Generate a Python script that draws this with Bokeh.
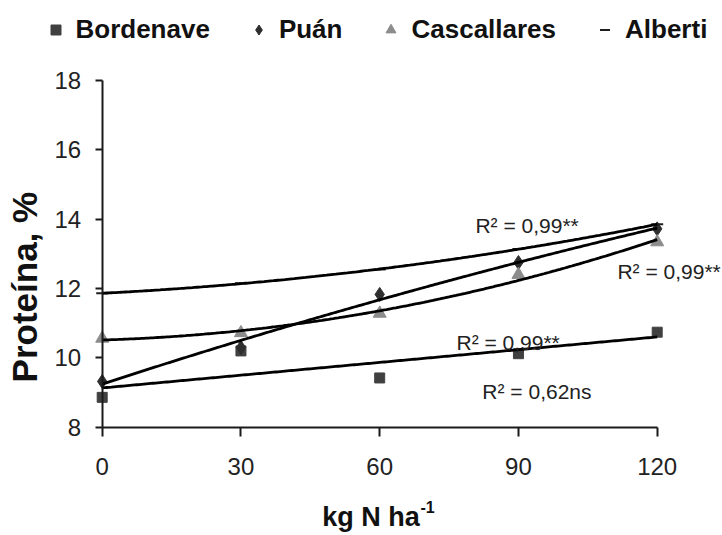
import numpy as np
from bokeh.plotting import figure
from bokeh.models import Range1d, LinearAxis, FixedTicker, Label, Legend, LegendItem
from bokeh.embed import file_html
from bokeh.resources import INLINE

# ---------------- data ----------------
dose = [0, 30, 60, 90, 120]                       # kg N ha-1
bordenave = [8.86, 10.20, 9.42, 10.12, 10.74]
puan = [9.32, 10.30, 11.83, 12.75, 13.72]
cascallares = [10.56, 10.72, 11.28, 12.40, 13.34]
alberti = [11.86, 12.15, 12.55, 13.14, 13.85]

series_names = ["Bordenave", "Puán", "Cascallares", "Alberti"]
fit_degree = [1, 2, 2, 2]
r2_texts = ["R² = 0,62ns", "R² = 0,99**", "R² = 0,99**", "R² = 0,99**"]

x_ticks = [0, 30, 60, 90, 120]
y_ticks = [8, 10, 12, 14, 16, 18]
x_title = "kg N ha"
x_title_sup = "-1"
y_title = "Proteína, %"

# ---------------- styles / positions ----------------
series_values = [bordenave, puan, cascallares, alberti]
markers = ["square", "diamond", "triangle", "dash"]
colors = ["#404040", "#2e2e2e", "#8c8c8c", "#1e1e1e"]
sizes = [10, 14, 13, 12]
r2_pos = [(82.2, 9.02), (76.6, 10.43), (111.4, 12.48), (80.7, 13.82)]

AX = "#1a1a1a"
FONT = "Liberation Sans"

# the frame fills the whole canvas; axes are drawn at fixed data locations
p = figure(width=722, height=535, output_backend="svg", toolbar_location=None,
           x_range=Range1d(-21.99, 134.12), y_range=Range1d(4.876, 20.307),
           x_axis_location=None, y_axis_location=None,
           min_border=0, min_border_left=0, min_border_right=0,
           min_border_top=0, min_border_bottom=0)
p.outline_line_color = None
p.background_fill_color = "white"
p.border_fill_color = "white"
p.grid.visible = False

xaxis = LinearAxis(fixed_location=8, bounds=(0, 120), ticker=FixedTicker(ticks=x_ticks))
yaxis = LinearAxis(fixed_location=0, bounds=(8, 18), ticker=FixedTicker(ticks=y_ticks))
for ax in (xaxis, yaxis):
    ax.axis_line_color = AX
    ax.axis_line_width = 2
    ax.major_tick_line_color = AX
    ax.major_tick_line_width = 2
    ax.major_tick_in = 0
    ax.minor_tick_line_color = None
    ax.major_label_text_font = FONT
    ax.major_label_text_font_size = "24px"
    ax.major_label_text_color = "#222222"
xaxis.major_tick_out = 9
xaxis.major_label_standoff = 22
yaxis.major_tick_out = 7
yaxis.major_label_standoff = 14
p.add_layout(xaxis, "below")
p.add_layout(yaxis, "left")

items = []
for name, vals, mk, col, sz in zip(series_names, series_values, markers, colors, sizes):
    r = p.scatter(dose, vals, marker=mk, size=sz, fill_color=col, line_color=col,
                  line_width=2 if mk == "dash" else 1)
    items.append(LegendItem(label=name, renderers=[r]))

xs = np.linspace(0, 120, 241)
for vals, deg in zip(series_values, fit_degree):
    coef = np.polyfit(dose, vals, deg)
    p.line(xs, np.polyval(coef, xs), line_color="black", line_width=2.8)

for (lx, ly), txt in zip(r2_pos, r2_texts):
    p.add_layout(Label(x=lx, y=ly, text=txt, text_font=FONT, text_font_size="21px",
                       text_color="#222222", text_align="left", text_baseline="middle"))

p.add_layout(Label(x=-16.8, y=12.04, text=y_title, angle=np.pi / 2,
                   text_font=FONT, text_font_style="bold", text_font_size="35px",
                   text_color="#111111", text_align="center", text_baseline="middle"))
p.add_layout(Label(x=47.6, y=5.40, text=x_title,
                   text_font=FONT, text_font_style="bold", text_font_size="27px",
                   text_color="#111111", text_align="left", text_baseline="middle"))
p.add_layout(Label(x=68.8, y=5.69, text=x_title_sup,
                   text_font=FONT, text_font_style="bold", text_font_size="16px",
                   text_color="#111111", text_align="left", text_baseline="middle"))

legend = Legend(items=items, orientation="horizontal", location=(42.5, 535 - 45),
                glyph_width=25, glyph_height=25, label_standoff=8, spacing=36,
                padding=0, margin=0, border_line_alpha=0, background_fill_alpha=0,
                label_text_font=FONT, label_text_font_style="bold",
                label_text_font_size="26px", label_text_color="#111111")
p.add_layout(legend)

open("out.html", "w").write(file_html(p, INLINE))
